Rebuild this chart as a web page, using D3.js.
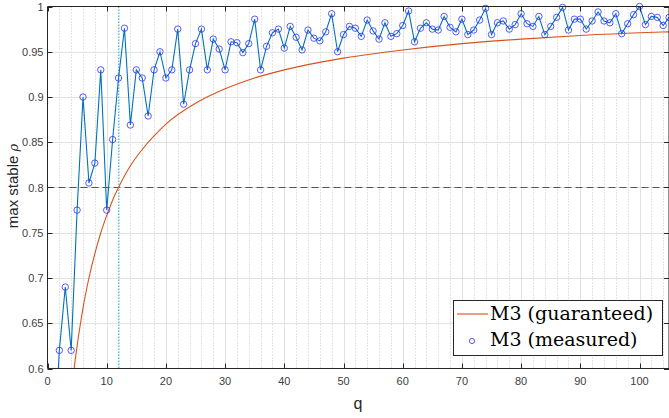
<!DOCTYPE html>
<html><head><meta charset="utf-8">
<script src="https://cdn.jsdelivr.net/npm/d3@7"></script>
<style>html,body{margin:0;padding:0;background:#fff;} svg{display:block;}</style>
</head><body>
<svg id="c" width="669" height="418"></svg>
<script>
// measured: q = 1..105
const measuredQ = d3.range(1, 106);
const measuredRho = [
 0.500, 0.620, 0.690, 0.620, 0.775, 0.900, 0.805, 0.827, 0.930, 0.775,
 0.853, 0.921, 0.976, 0.869, 0.930, 0.921, 0.879, 0.930, 0.950, 0.921,
 0.930, 0.975, 0.892, 0.930, 0.959, 0.975, 0.930, 0.964, 0.953, 0.930,
 0.961, 0.960, 0.949, 0.959, 0.986, 0.930, 0.956, 0.971, 0.975, 0.954,
 0.978, 0.966, 0.952, 0.974, 0.965, 0.962, 0.972, 0.992, 0.950, 0.969,
 0.978, 0.976, 0.967, 0.985, 0.973, 0.964, 0.982, 0.967, 0.970, 0.979,
 0.995, 0.961, 0.976, 0.982, 0.975, 0.974, 0.989, 0.977, 0.972, 0.986,
 0.969, 0.974, 0.985, 0.998, 0.969, 0.982, 0.984, 0.975, 0.980, 0.992,
 0.981, 0.978, 0.989, 0.969, 0.978, 0.988, 0.999, 0.974, 0.986, 0.986,
 0.975, 0.984, 0.994, 0.984, 0.982, 0.992, 0.970, 0.981, 0.991, 1.000,
 0.980, 0.989, 0.988, 0.979, 0.988
];
// guaranteed curve, read at sample q values
const guarQ   = [4.2, 4.5, 5, 5.5, 6, 7, 8, 9, 10, 11, 12, 14, 16, 18, 20, 25, 30, 35, 40, 50, 60, 70, 80, 90, 100, 105];
const guarRho = [0.583, 0.600, 0.625, 0.647, 0.667, 0.700, 0.727, 0.750, 0.769, 0.786, 0.800, 0.824, 0.842, 0.857, 0.870, 0.893, 0.909, 0.921, 0.930, 0.943, 0.952, 0.959, 0.964, 0.968, 0.971, 0.972];
const xTicks = [0, 10, 20, 30, 40, 50, 60, 70, 80, 90, 100];
const yTicks = [0.6, 0.65, 0.7, 0.75, 0.8, 0.85, 0.9, 0.95, 1];
const xMinor = d3.range(0, 106, 2).filter(v => v % 10 !== 0);
const refRho = 0.8;
const refQ = 12;
const legendLabels = ["M3 (guaranteed)", "M3 (measured)"];
const xLabel = "q";

const L = 47.5, R = 668.5, T = 6.5, B = 368.5;
const svg = d3.select("#c");
const x = d3.scaleLinear().domain([0, 105]).range([L, R + 0.6]);
const y = d3.scaleLinear().domain([0.6, 1]).range([B, T]);
const axisCol = "#262626";
const tickFont = "Liberation Sans, Arial, sans-serif";

svg.append("defs").append("clipPath").attr("id", "clip")
  .append("rect").attr("x", L).attr("y", T).attr("width", R - L + 1).attr("height", B - T);

const g = svg.append("g");
// minor grid
g.selectAll(".mg").data(xMinor).join("line")
  .attr("x1", d => Math.round(x(d)) + 0.5).attr("x2", d => Math.round(x(d)) + 0.5)
  .attr("y1", T).attr("y2", B)
  .attr("stroke", "#c8c8c8").attr("stroke-width", 1).attr("stroke-dasharray", "1,2");
// major grid
g.selectAll(".gx").data(xTicks.slice(1)).join("line")
  .attr("x1", d => Math.round(x(d)) + 0.5).attr("x2", d => Math.round(x(d)) + 0.5)
  .attr("y1", T).attr("y2", B).attr("stroke", "#e2e2e2").attr("stroke-width", 1);
g.selectAll(".gy").data(yTicks.slice(1, -1)).join("line")
  .attr("y1", d => Math.round(y(d)) + 0.5).attr("y2", d => Math.round(y(d)) + 0.5)
  .attr("x1", L).attr("x2", R).attr("stroke", "#e2e2e2").attr("stroke-width", 1);

const clipG = svg.append("g").attr("clip-path", "url(#clip)");
// reference lines
clipG.append("line").attr("x1", L).attr("x2", R)
  .attr("y1", Math.round(y(refRho)) + 0.5).attr("y2", Math.round(y(refRho)) + 0.5)
  .attr("stroke", "#555").attr("stroke-width", 1).attr("stroke-dasharray", "7,4");
clipG.append("line").attr("x1", x(refQ)).attr("x2", x(refQ))
  .attr("y1", T).attr("y2", B)
  .attr("stroke", "#4DBEEE").attr("stroke-width", 1.2).attr("stroke-dasharray", "1.5,1.5");

// guaranteed
clipG.append("path")
  .datum(guarQ.map((q, i) => [q, guarRho[i]]))
  .attr("d", d3.line().x(d => x(d[0])).y(d => y(d[1])).curve(d3.curveMonotoneX))
  .attr("fill", "none").attr("stroke", "#D95319").attr("stroke-width", 1.1);

// measured line
const mdata = measuredQ.map((q, i) => [q, measuredRho[i]]);
clipG.append("path").datum(mdata)
  .attr("d", d3.line().x(d => x(d[0])).y(d => y(d[1])))
  .attr("fill", "none").attr("stroke", "#0072BD").attr("stroke-width", 1.1);
// markers
svg.append("g").selectAll("circle").data(mdata.filter(d => d[1] >= 0.6))
  .join("circle").attr("cx", d => x(d[0])).attr("cy", d => y(d[1])).attr("r", 3.2)
  .attr("fill", "none").attr("stroke", "#2f2fff").attr("stroke-width", 0.8);

// axes box
const ax = svg.append("g");
ax.append("path").attr("d", `M${L},${T}H${R + 1}M${L},${B}H${R + 1}M${L},${T}V${B}M${R + 0.5},${T}V${B}`)
  .attr("stroke", axisCol).attr("stroke-width", 1).attr("fill", "none");
const tl = 5;
xTicks.forEach(v => {
  const px = Math.round(x(v)) + 0.5;
  ax.append("line").attr("x1", px).attr("x2", px).attr("y1", B).attr("y2", B - tl).attr("stroke", axisCol);
  ax.append("line").attr("x1", px).attr("x2", px).attr("y1", T).attr("y2", T + tl).attr("stroke", axisCol);
  ax.append("text").attr("x", x(v)).attr("y", B + 16).attr("text-anchor", "middle")
    .attr("font-family", tickFont).attr("font-size", 11).attr("fill", "#404040").text(v);
});
yTicks.forEach(v => {
  const py = Math.round(y(v)) + 0.5;
  ax.append("line").attr("x1", L).attr("x2", L + tl).attr("y1", py).attr("y2", py).attr("stroke", axisCol);
  ax.append("line").attr("x1", R + 0.5).attr("x2", R + 0.5 - tl).attr("y1", py).attr("y2", py).attr("stroke", axisCol);
  ax.append("text").attr("x", L - 4).attr("y", y(v) + 4).attr("text-anchor", "end")
    .attr("font-family", tickFont).attr("font-size", 11).attr("fill", "#404040").text(v);
});
// axis labels
svg.append("text").attr("x", (L + R) / 2).attr("y", 409).attr("text-anchor", "middle")
  .attr("font-family", tickFont).attr("font-size", 16).attr("fill", "#262626").text(xLabel);
const yl = svg.append("text").attr("transform", "translate(18,186) rotate(-90)").attr("text-anchor", "middle")
  .attr("font-family", tickFont).attr("font-size", 15).attr("fill", "#262626");
yl.append("tspan").text("max stable ");
yl.append("tspan").attr("font-family", "DejaVu Serif, serif").attr("font-style", "italic").attr("font-size", 13).text("ρ");

// legend
const lg = svg.append("g");
lg.append("rect").attr("x", 453.5).attr("y", 300.5).attr("width", 209).attr("height", 55)
  .attr("fill", "#fff").attr("stroke", "#262626").attr("stroke-width", 1);
lg.append("line").attr("x1", 457).attr("x2", 488).attr("y1", 314).attr("y2", 314)
  .attr("stroke", "#D95319").attr("stroke-width", 1.1);
lg.append("circle").attr("cx", 472).attr("cy", 341).attr("r", 2.6)
  .attr("fill", "none").attr("stroke", "#2f2fff").attr("stroke-width", 0.8);
legendLabels.forEach((t, i) => {
  lg.append("text").attr("x", 490).attr("y", 320 + i * 25.5)
    .attr("font-family", "DejaVu Serif, serif").attr("font-size", 19).attr("fill", "#000").text(t);
});
</script>
</body></html>
